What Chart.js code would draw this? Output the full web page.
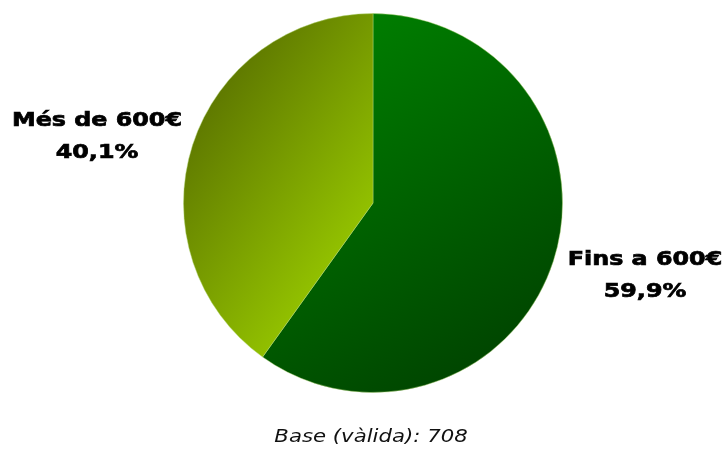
<!DOCTYPE html>
<html>
<head>
<meta charset="utf-8">
<script src="https://cdn.jsdelivr.net/npm/chart.js@4/dist/chart.umd.min.js"></script>
<style>
  html, body { margin: 0; padding: 0; background: #fff; }
  #wrap { width: 727px; height: 449px; position: relative; }
</style>
</head>
<body>
<div id="wrap"><canvas id="pieChart"></canvas></div>
<script>
// data
const categories = ["Fins a 600€", "Més de 600€"];
const percents = [59.9, 40.1];
const baseText = "Base (vàlida): 708";

// gradient stops per slice (start colour, end colour)
const sliceColors = [
  ["#008000", "#004600"],
  ["#5a7200", "#97c800"],
];

function sliceGradient(context) {
  const chart = context.chart;
  const area = chart.chartArea;
  const i = context.dataIndex;
  if (!area) return sliceColors[i][0];
  const cx = (area.left + area.right) / 2;
  const cy = (area.top + area.bottom) / 2;
  const r = Math.min(area.right - area.left, area.bottom - area.top) / 2;
  let g;
  if (i === 0) {
    g = chart.ctx.createLinearGradient(cx - r * 0.2, cy - r, cx + r * 0.8, cy + r * 0.7);
  } else {
    g = chart.ctx.createLinearGradient(cx - r, cy - r * 0.5, cx, cy + r * 0.2);
  }
  g.addColorStop(0, sliceColors[i][0]);
  g.addColorStop(1, sliceColors[i][1]);
  return g;
}

// draws text stretched sideways, to get closer to the wide Verdana look
function wideText(ctx, txt, x, y, sx, heavy) {
  ctx.save();
  ctx.translate(x, y);
  ctx.scale(sx, 1);
  ctx.fillText(txt, 0, 0);
  if (heavy) {
    ctx.lineWidth = 0.7;
    ctx.strokeText(txt, 0, 0);
  }
  ctx.restore();
}

// text labels + footer
const labelPlugin = {
  id: "labelPlugin",
  afterDraw(chart) {
    const ctx = chart.ctx;
    ctx.save();
    ctx.fillStyle = "#000";
    ctx.strokeStyle = "#000";
    ctx.textAlign = "center";
    ctx.textBaseline = "middle";
    ctx.font = "bold 20px 'DejaVu Sans', Verdana, sans-serif";
    const spots = [[645, 260], [97, 121]];
    categories.forEach((c, i) => {
      const pct = percents[i].toFixed(1).replace(".", ",") + "%";
      wideText(ctx, c, spots[i][0], spots[i][1], 1.19, true);
      wideText(ctx, pct, spots[i][0], spots[i][1] + 32, 1.19, true);
    });
    ctx.fillStyle = "#111";
    ctx.font = "oblique 18px 'DejaVu Sans', Verdana, sans-serif";
    wideText(ctx, baseText, 371, 437, 1.18, false);
    ctx.restore();
  },
};

const config = {
  type: "pie",
  data: {
    labels: categories,
    datasets: [
      {
        data: percents,
        backgroundColor: sliceGradient,
        borderColor: "rgba(180,215,120,0.45)",
        borderWidth: 1,
      },
    ],
  },
  options: {
    responsive: true,
    maintainAspectRatio: false,
    animation: false,
    layout: {
      padding: { left: 183, right: 164, top: 13, bottom: 56 },
    },
    plugins: {
      legend: { display: false },
      tooltip: { enabled: false },
    },
  },
  plugins: [labelPlugin],
};

const myChart = new Chart(document.getElementById("pieChart"), config);
</script>
</body>
</html>
